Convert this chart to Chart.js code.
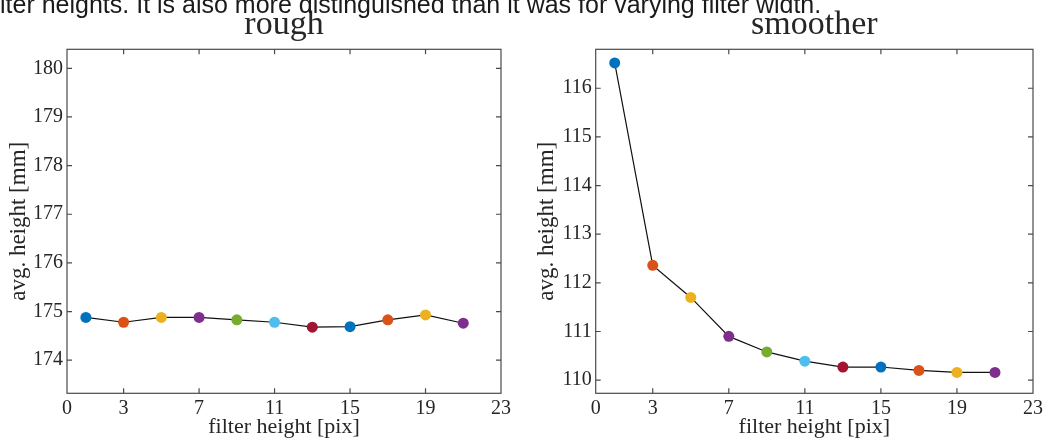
<!DOCTYPE html>
<html>
<head>
<meta charset="utf-8">
<script src="https://cdn.jsdelivr.net/npm/chart.js@4.4.0/dist/chart.umd.min.js"></script>
<style>
html,body{margin:0;padding:0;background:#fff;width:1046px;height:440px;overflow:hidden;}
#c1wrap{position:absolute;left:0;top:0;width:530px;height:440px;}
#c2wrap{position:absolute;left:530px;top:0;width:516px;height:440px;}
#note{position:absolute;left:0;top:-8px;font-family:"Liberation Sans",Arial,sans-serif;font-size:25px;line-height:25px;color:#1a1a1a;white-space:nowrap;z-index:2;}
</style>
</head>
<body>
<div id="note">lter heights. It is also more distinguished than it was for varying filter width.</div>
<div id="c1wrap"><canvas id="c1" width="530" height="440"></canvas></div>
<div id="c2wrap"><canvas id="c2" width="516" height="440"></canvas></div>
<script>
const filterHeights = [1, 3, 5, 7, 9, 11, 13, 15, 17, 19, 21];
const roughHeights = [174.88, 174.78, 174.88, 174.88, 174.83, 174.78, 174.68, 174.69, 174.83, 174.93, 174.76];
const smootherHeights = [116.52, 112.36, 111.70, 110.90, 110.58, 110.39, 110.27, 110.27, 110.20, 110.16, 110.16];
const xTickValues = [0, 3, 7, 11, 15, 19, 23];
const roughYTicks = [174, 175, 176, 177, 178, 179, 180];
const smootherYTicks = [110, 111, 112, 113, 114, 115, 116];
const markerColors = ['#0072BD', '#D95319', '#EDB120', '#7E2F8E', '#77AC30', '#4DBEEE', '#A2142F', '#0072BD', '#D95319', '#EDB120', '#7E2F8E'];

const SERIF = '"Liberation Serif", "Times New Roman", serif';
const TEXT = '#262626';

const boxPlugin = {
  id: 'matlabBox',
  beforeDatasetsDraw(chart) {
    const {ctx, chartArea: a, scales} = chart;
    ctx.save();
    ctx.strokeStyle = '#4a4a4a';
    ctx.lineWidth = 1.2;
    ctx.strokeRect(a.left, a.top, a.right - a.left, a.bottom - a.top);
    const tl = 5;
    ctx.beginPath();
    scales.x.ticks.forEach(t => {
      const px = scales.x.getPixelForValue(t.value);
      if (px <= a.left + 1 || px >= a.right - 1) return;
      ctx.moveTo(px, a.bottom); ctx.lineTo(px, a.bottom - tl);
      ctx.moveTo(px, a.top); ctx.lineTo(px, a.top + tl);
    });
    scales.y.ticks.forEach(t => {
      const py = scales.y.getPixelForValue(t.value);
      if (py <= a.top + 1 || py >= a.bottom - 1) return;
      ctx.moveTo(a.left, py); ctx.lineTo(a.left + tl, py);
      ctx.moveTo(a.right, py); ctx.lineTo(a.right - tl, py);
    });
    ctx.stroke();
    ctx.restore();
  }
};

function makeChart(id, title, values, yMin, yMax, yTicks, yAxisWidth, rightPad, yTitlePad) {
  return new Chart(document.getElementById(id), {
    type: 'line',
    data: {
      datasets: [{
        data: filterHeights.map((x, i) => ({x: x, y: values[i]})),
        borderColor: '#111',
        borderWidth: 1.2,
        pointRadius: 5.5,
        pointBackgroundColor: markerColors,
        pointBorderWidth: 0,
        tension: 0,
        fill: false
      }]
    },
    options: {
      responsive: false,
      animation: false,
      layout: {padding: {left: 0, right: rightPad, top: 0, bottom: 0}},
      plugins: {
        legend: {display: false},
        tooltip: {enabled: false},
        title: {
          display: true, text: title, color: TEXT, fullSize: false,
          font: {family: SERIF, size: 34, weight: 'normal'},
          padding: {top: 4.5, bottom: 4}
        }
      },
      scales: {
        x: {
          type: 'linear', min: 0, max: 23,
          grid: {display: false, drawTicks: false},
          border: {display: false},
          afterBuildTicks: s => { s.ticks = xTickValues.map(v => ({value: v})); },
          afterFit: s => { s.height = 46.7; },
          ticks: {color: TEXT, font: {family: SERIF, size: 20}, padding: 3, autoSkip: false, maxRotation: 0},
          title: {display: true, text: 'filter height [pix]', color: TEXT, font: {family: SERIF, size: 22}, padding: {top: 0, bottom: 0}}
        },
        y: {
          type: 'linear', min: yMin, max: yMax,
          grid: {display: false, drawTicks: false},
          border: {display: false},
          afterBuildTicks: s => { s.ticks = yTicks.map(v => ({value: v})); },
          afterFit: s => { s.width = yAxisWidth; },
          ticks: {color: TEXT, font: {family: SERIF, size: 20}, padding: 4},
          title: {display: true, text: 'avg. height [mm]', color: TEXT, font: {family: SERIF, size: 23}, padding: {top: yTitlePad, bottom: 0}}
        }
      }
    },
    plugins: [boxPlugin]
  });
}

makeChart('c1', 'rough', roughHeights, 173.32, 180.39, roughYTicks, 67, 29, 5);
makeChart('c2', 'smoother', smootherHeights, 109.73, 116.80, smootherYTicks, 65.7, 10.7, 3);
</script>
</body>
</html>
